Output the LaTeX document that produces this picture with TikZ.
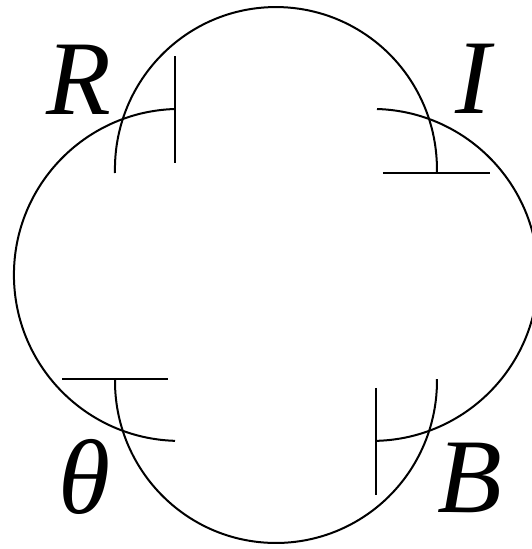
\documentclass[tikz,border=0pt]{standalone}
\usepackage{fontspec}
\setmainfont{Liberation Serif}
\begin{document}
\begin{tikzpicture}[x=1pt,y=1pt,
  curve/.style={line width=2pt},
  barline/.style={line width=2pt},
  lbl/.style={font=\fontsize{106}{110}\selectfont\itshape, inner sep=0pt}]
\useasboundingbox (0,0) rectangle (532,-549);
% arc end points
\coordinate (la) at (175,-109);
\coordinate (ta) at (115,-173);
\coordinate (ra) at (377,-109);
\coordinate (ba) at (115,-379);
% arcs
\draw[curve] (ta) arc[start angle=181.4, end angle=-1.4, x radius=161, y radius=162] coordinate (tb);
\draw[curve] (la) arc[start angle=91.7, end angle=268.3, radius=166] coordinate (lb);
\draw[curve] (ra) arc[start angle=88.3, end angle=-88.3, radius=166] coordinate (rb);
\draw[curve] (ba) arc[start angle=179.3, end angle=360.7, x radius=161, y radius=162] coordinate (bb);
% bars
\draw[barline] ([yshift=53pt]la) -- ([yshift=-54pt]la);
\draw[barline] ([xshift=-54pt]tb) -- ([xshift=53pt]tb);
\draw[barline] ([xshift=-53pt]ba) -- ([xshift=53pt]ba);
\draw[barline] ([xshift=-1pt,yshift=53pt]rb) -- ([xshift=-1pt,yshift=-54pt]rb);
% labels
\node[lbl] (R) at (78.5,-80) {R};
\node[lbl] (I) at (473,-79) {I};
\node[lbl] (T) at (85,-477) {θ};
\node[lbl] (B) at (470,-478) {B};
\end{tikzpicture}
\end{document}
